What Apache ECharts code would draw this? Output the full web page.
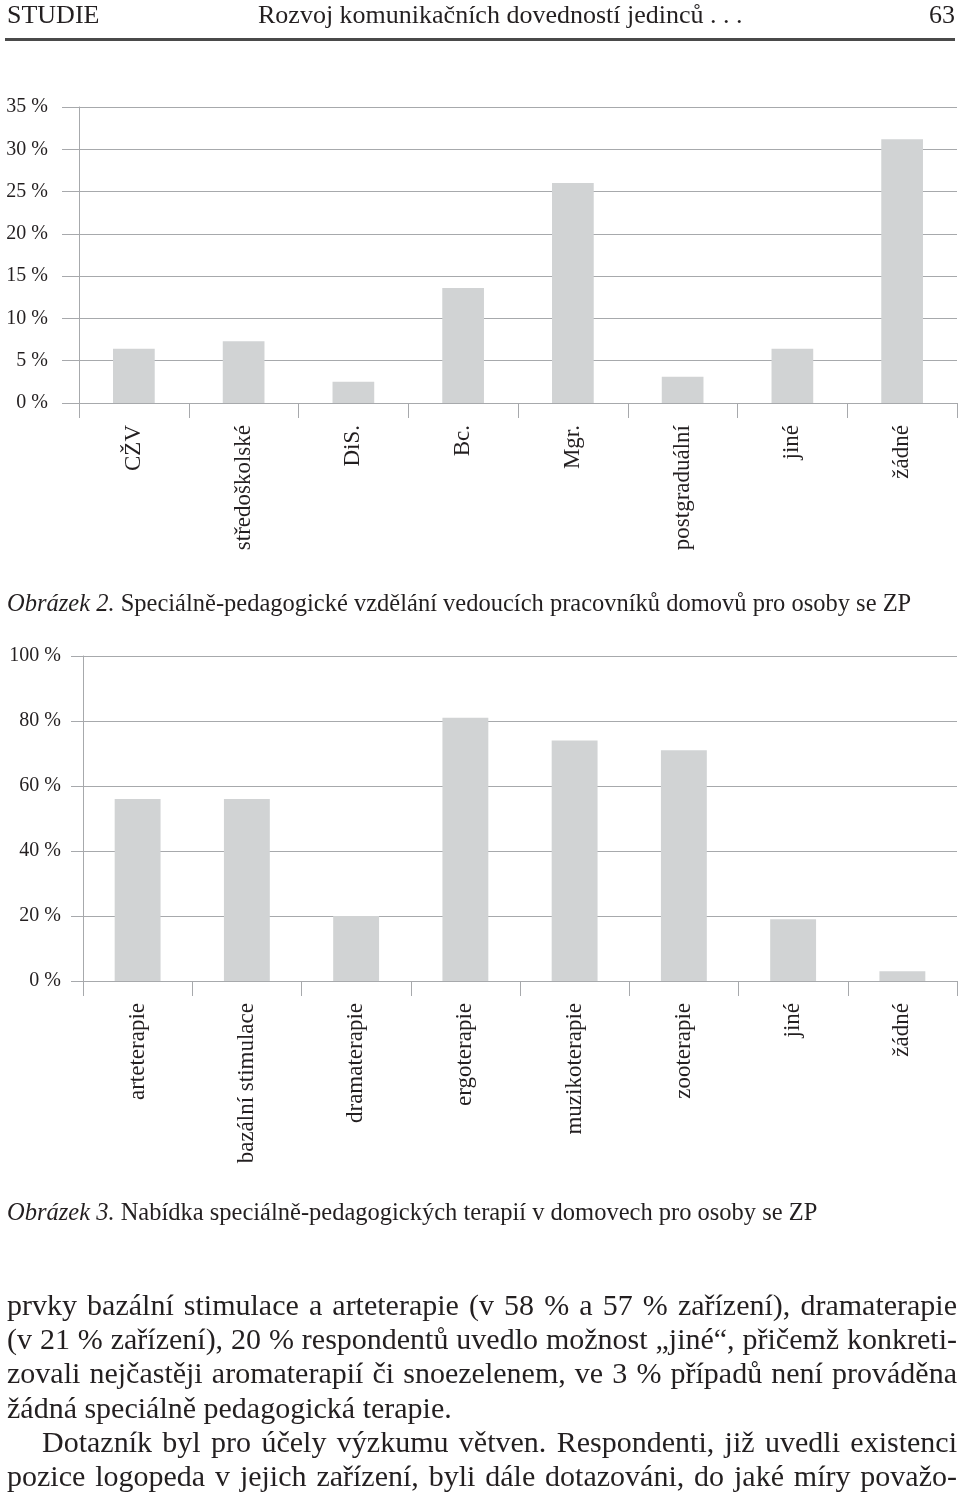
<!DOCTYPE html>
<html>
<head>
<meta charset="utf-8">
<script src="https://cdn.jsdelivr.net/npm/echarts@6/dist/echarts.min.js"></script>
<style>
  body { margin: 0; background: #fff; }
  #page { position: relative; width: 960px; height: 1499px; overflow: hidden; font-family: 'Liberation Serif', serif; color: #231f20; }
  #chart { position: absolute; left: 0; top: 0; width: 960px; height: 1499px; }
  .hd { position: absolute; top: 0; font-size: 26px; line-height: 30px; white-space: nowrap; }
  .rule { position: absolute; left: 5px; top: 38px; width: 950px; height: 3px; background: #4a4a4a; }
  .cap { position: absolute; left: 7px; font-size: 24.5px; line-height: 30px; white-space: nowrap; }
  .body { position: absolute; left: 7px; top: 1288px; width: 950px; font-size: 30px; }
  .body div { height: 34.2px; line-height: 34.2px; white-space: nowrap; text-align: justify; text-align-last: justify; }
  .body div.last { text-align-last: left; }
</style>
</head>
<body>
<div id="page">
  <div id="chart"></div>
  <div class="hd" style="left:7px;">STUDIE</div>
  <div class="hd" style="left:258px;">Rozvoj komunikačních dovedností jedinců . . .</div>
  <div class="hd" style="right:5px;">63</div>
  <div class="rule"></div>
  <div class="cap" style="top:588px;"><i>Obrázek 2.</i> Speciálně-pedagogické vzdělání vedoucích pracovníků domovů pro osoby se ZP</div>
  <div class="cap" style="top:1197px;"><i>Obrázek 3.</i> Nabídka speciálně-pedagogických terapií v domovech pro osoby se ZP</div>
  <div class="body">
    <div>prvky bazální stimulace a arteterapie (v 58 % a 57 % zařízení), dramaterapie</div>
    <div>(v 21 % zařízení), 20 % respondentů uvedlo možnost „jiné“, přičemž konkreti-</div>
    <div>zovali nejčastěji aromaterapií či snoezelenem, ve 3 % případů není prováděna</div>
    <div class="last">žádná speciálně pedagogická terapie.</div>
    <div style="padding-left:35px;">Dotazník byl pro účely výzkumu větven. Respondenti, již uvedli existenci</div>
    <div>pozice logopeda v jejich zařízení, byli dále dotazováni, do jaké míry považo-</div>
  </div>
</div>
<script>
// Obrázek 2 - vzdělání vedoucích pracovníků (v %)
var eduCategories = ['CŽV', 'středoškolské', 'DiS.', 'Bc.', 'Mgr.', 'postgraduální', 'jiné', 'žádné'];
var eduValues = [6.4, 7.3, 2.5, 13.6, 26.0, 3.1, 6.4, 31.2];
var eduMax = 35, eduStep = 5;

// Obrázek 3 - nabídka terapií (v %)
var therapyCategories = ['arteterapie', 'bazální stimulace', 'dramaterapie', 'ergoterapie', 'muzikoterapie', 'zooterapie', 'jiné', 'žádné'];
var therapyValues = [56, 56, 20, 81, 74, 71, 19, 3];
var therapyMax = 100, therapyStep = 20;

var barColor = '#d1d3d4';
var lineColor = '#a7a9ac';
var textColor = '#231f20';
var font = 'Liberation Serif';

function yAxis(idx, max, step, margin, tickLen) {
  return {
    type: 'value',
    gridIndex: idx,
    min: 0,
    max: max,
    interval: step,
    axisLine: { show: true, lineStyle: { color: lineColor, width: 1 } },
    axisTick: { show: true, length: tickLen, lineStyle: { color: lineColor } },
    splitLine: { show: true, lineStyle: { color: lineColor, width: 1 } },
    axisLabel: { formatter: '{value} %', fontFamily: font, fontSize: 20, color: textColor, margin: margin }
  };
}

function xAxis(idx, cats, size) {
  return {
    type: 'category',
    gridIndex: idx,
    data: cats,
    boundaryGap: true,
    axisLine: { show: true, lineStyle: { color: lineColor, width: 1 } },
    axisTick: { show: true, length: 15, alignWithLabel: false, lineStyle: { color: lineColor } },
    axisLabel: { interval: 0, rotate: 90, margin: 22, fontFamily: font, fontSize: size, color: textColor }
  };
}

var chart = echarts.init(document.getElementById('chart'), null, { renderer: 'canvas' });
chart.setOption({
  animation: false,
  backgroundColor: 'transparent',
  grid: [
    { left: 79, top: 107, width: 878, height: 296 },
    { left: 83, top: 656, width: 874, height: 325 }
  ],
  xAxis: [
    xAxis(0, eduCategories, 23),
    xAxis(1, therapyCategories, 23)
  ],
  yAxis: [
    yAxis(0, eduMax, eduStep, 31, 17),
    yAxis(1, therapyMax, therapyStep, 22, 12)
  ],
  series: [
    {
      type: 'bar',
      xAxisIndex: 0,
      yAxisIndex: 0,
      data: eduValues,
      barWidth: '38%',
      itemStyle: { color: barColor }
    },
    {
      type: 'bar',
      xAxisIndex: 1,
      yAxisIndex: 1,
      data: therapyValues,
      barWidth: '42%',
      itemStyle: { color: barColor }
    }
  ]
});
</script>
</body>
</html>
